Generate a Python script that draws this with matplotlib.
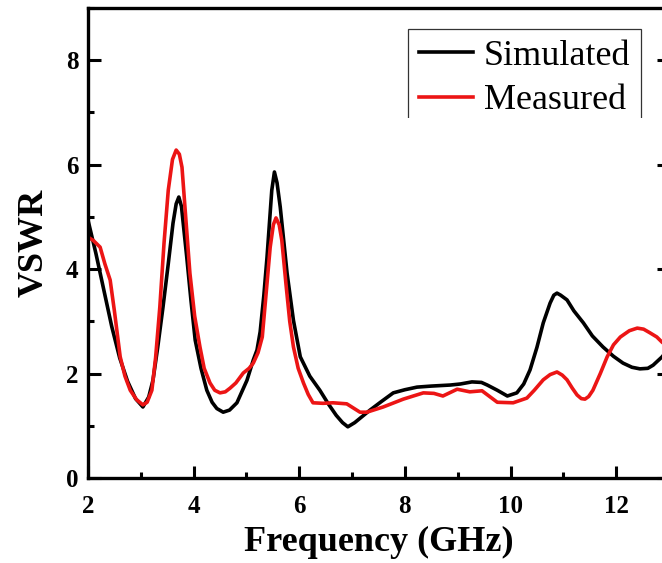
import matplotlib.pyplot as plt
from matplotlib.patches import Rectangle
from matplotlib.ticker import MultipleLocator

# simulated VSWR
sim_f = [2.0, 2.15, 2.3, 2.45, 2.6, 2.75, 2.9, 3.04, 3.15, 3.23, 3.32, 3.42,
         3.52, 3.61, 3.67, 3.72, 3.77, 3.87, 3.95, 4.03, 4.14, 4.25, 4.35,
         4.44, 4.56, 4.68, 4.82, 5.01, 5.13, 5.2, 5.26, 5.33, 5.39, 5.48,
         5.53, 5.58, 5.64, 5.77, 5.89, 6.02, 6.2, 6.39, 6.55, 6.7, 6.82,
         6.92, 7.05, 7.34, 7.55, 7.78, 8.0, 8.23, 8.5, 8.86, 9.05, 9.27,
         9.45, 9.56, 9.75, 9.94, 10.12, 10.25, 10.37, 10.5, 10.62, 10.75,
         10.82, 10.88, 10.95, 11.07, 11.2, 11.38, 11.55, 11.75, 11.95,
         12.13, 12.3, 12.45, 12.6, 12.7, 12.87, 13.0]
sim_v = [4.94, 4.3, 3.6, 2.9, 2.3, 1.85, 1.52, 1.36, 1.55, 1.87, 2.5, 3.27,
         4.1, 4.88, 5.25, 5.38, 5.2, 4.23, 3.4, 2.64, 2.1, 1.68, 1.45,
         1.33, 1.26, 1.3, 1.44, 1.87, 2.26, 2.45, 2.8, 3.5, 4.23, 5.51,
         5.86, 5.65, 5.19, 3.92, 3.02, 2.32, 1.95, 1.68, 1.42, 1.2, 1.06,
         0.98, 1.06, 1.30, 1.46, 1.63, 1.69, 1.74, 1.76, 1.78, 1.80, 1.84,
         1.83, 1.78, 1.68, 1.57, 1.63, 1.8, 2.07, 2.5, 2.97, 3.35,
         3.5, 3.54, 3.5, 3.41, 3.2, 2.97, 2.72, 2.51, 2.33,
         2.20, 2.12, 2.09, 2.1, 2.16, 2.32, 2.48]

# measured VSWR
mea_f = [2.0, 2.1, 2.23, 2.32, 2.42, 2.5, 2.61, 2.7, 2.8, 2.92, 3.04, 3.12,
         3.21, 3.28, 3.36, 3.44, 3.52, 3.6, 3.67, 3.73, 3.78, 3.85, 3.93,
         4.02, 4.12, 4.2, 4.31, 4.4, 4.5, 4.6, 4.69, 4.8, 4.94, 5.05, 5.13,
         5.22, 5.3, 5.37, 5.45, 5.51, 5.56, 5.62, 5.67, 5.75, 5.82, 5.89,
         5.98, 6.08, 6.17, 6.26, 6.45, 6.64, 6.9, 7.15, 7.28, 7.59, 7.97,
         8.35, 8.55, 8.72, 8.99, 9.23, 9.46, 9.75, 10.05, 10.31, 10.45,
         10.62, 10.75, 10.88, 10.98, 11.07, 11.17, 11.26, 11.34, 11.41,
         11.48, 11.56, 11.7, 11.83, 11.95, 12.08, 12.25, 12.4, 12.52, 12.64,
         12.77, 12.87, 13.0]
mea_v = [4.61, 4.55, 4.42, 4.1, 3.79, 3.2, 2.32, 1.95, 1.68, 1.5, 1.40, 1.45,
         1.68, 2.3, 3.27, 4.5, 5.51, 6.1, 6.28, 6.2, 5.95, 5.0, 3.92,
         3.1, 2.51, 2.1, 1.82, 1.68, 1.63, 1.65, 1.72, 1.82, 2.01, 2.1, 2.20,
         2.4, 2.70, 3.5, 4.42, 4.85, 4.98, 4.85, 4.55, 3.7, 3.0, 2.51,
         2.1, 1.82, 1.6, 1.44, 1.43, 1.44, 1.42, 1.26, 1.26, 1.36, 1.51,
         1.63, 1.62, 1.57, 1.70, 1.65, 1.67, 1.45, 1.44, 1.53, 1.68,
         1.88, 1.98, 2.03, 1.97, 1.88, 1.72, 1.59, 1.52, 1.51,
         1.56, 1.68, 2.0, 2.32, 2.55, 2.70, 2.82, 2.87, 2.85, 2.78,
         2.7, 2.60, 2.50]

plt.rcParams['font.family'] = ['Liberation Serif', 'DejaVu Serif']

fig = plt.figure(figsize=(6.62, 5.63), dpi=100)
ax = fig.add_axes([0.1329, 0.151, 0.8776, 0.8348])

ax.plot(sim_f, sim_v, color='black', lw=2.6, label='Simulated')
ax.plot(mea_f, mea_v, color='#ec1515', lw=2.6, label='Measured')

ax.set_xlim(2, 13)
ax.set_ylim(0, 9)
ax.xaxis.set_major_locator(MultipleLocator(2))
ax.xaxis.set_minor_locator(MultipleLocator(1))
ax.yaxis.set_major_locator(MultipleLocator(2))
ax.yaxis.set_minor_locator(MultipleLocator(1))
ax.tick_params(which='both', direction='in', width=2.2, right=True,
               top=False, labelsize=18)
ax.tick_params(which='major', length=9)
ax.tick_params(which='minor', length=4.5)
ax.tick_params(axis='x', pad=12)
ax.tick_params(axis='y', pad=7)
for lab in ax.get_xticklabels() + ax.get_yticklabels():
    lab.set_fontweight('bold')
for sp in ax.spines.values():
    sp.set_linewidth(2.4)

ax.set_xlabel('Frequency (GHz)', fontsize=26, fontweight='bold', labelpad=6)
ax.set_ylabel('VSWR', fontsize=26, fontweight='bold', labelpad=11)

leg = ax.legend(loc='upper left', bbox_to_anchor=(0.5508, 0.9553),
                borderaxespad=0, fontsize=26, frameon=True, fancybox=False,
                handlelength=1.5, handletextpad=0.3, labelspacing=0.3,
                borderpad=0.3)
leg.get_frame().set_edgecolor('black')
leg.get_frame().set_linewidth(0.9)
leg.get_frame().set_clip_path(
    Rectangle((0, 1 - 118 / 563), 1, 1, transform=fig.transFigure))

fig.savefig('out.png', dpi=100)
